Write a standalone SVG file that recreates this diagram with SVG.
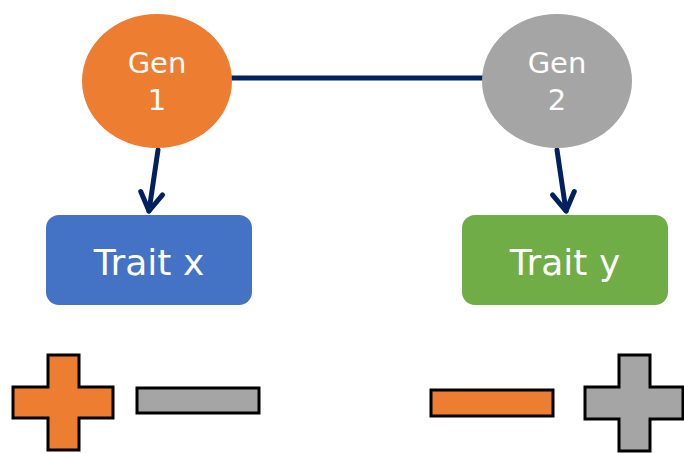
<svg xmlns="http://www.w3.org/2000/svg" width="684" height="453" viewBox="0 0 684 453">
<style>
.lbl{font-family:"DejaVu Sans","Verdana",sans-serif;fill:#fff;text-anchor:middle}
.gen{font-size:29px}
.trait{font-size:36px}
.conn{stroke:#002060;stroke-width:5;fill:none;stroke-linecap:round;stroke-linejoin:round}
.sym{stroke:#000;stroke-width:3;stroke-linejoin:miter}
.or{fill:#ED7D31}
.gr{fill:#A5A5A5}
</style>
<defs>
<marker id="chev" markerUnits="userSpaceOnUse" viewBox="-25 -16 30 32" markerWidth="30" markerHeight="32" refX="0" refY="0" orient="auto" overflow="visible">
<path d="M -18 -11 L 0 0 L -18 11" fill="none" stroke="#002060" stroke-width="5" stroke-linecap="round" stroke-linejoin="round"/>
</marker>
</defs>
<g id="connectors">
<line class="conn" x1="232" y1="78" x2="483" y2="78" stroke-linecap="butt"/>
<path class="conn" d="M 158 150 L 149 211" marker-end="url(#chev)"/>
<path class="conn" d="M 557 150 L 566 211" marker-end="url(#chev)"/>
</g>
<g id="gen1">
<ellipse cx="157" cy="81" rx="75" ry="67" class="or"/>
<text class="lbl gen" x="157" y="73">Gen</text>
<text class="lbl gen" x="157" y="110">1</text>
</g>
<g id="gen2">
<ellipse cx="557" cy="81" rx="75" ry="67" class="gr"/>
<text class="lbl gen" x="557" y="73">Gen</text>
<text class="lbl gen" x="557" y="110">2</text>
</g>
<g id="traitx">
<rect x="46" y="215" width="206" height="90" rx="13" fill="#4472C4"/>
<text class="lbl trait" x="149" y="275">Trait x</text>
</g>
<g id="traity">
<rect x="462" y="215" width="206" height="90" rx="13" fill="#70AD47"/>
<text class="lbl trait" x="565" y="275">Trait y</text>
</g>
<g id="plus1">
<path class="sym or" d="M48 355 H79 V387 H113 V418 H79 V450 H48 V418 H13 V387 H48 Z"/>
</g>
<g id="minus1">
<rect class="sym gr" x="137" y="388" width="122" height="25"/>
</g>
<g id="minus2">
<rect class="sym or" x="431" y="390" width="122" height="26"/>
</g>
<g id="plus2">
<path class="sym gr" d="M619 355 H650 V387 H683 V419 H650 V451 H619 V419 H585 V387 H619 Z"/>
</g>
</svg>
